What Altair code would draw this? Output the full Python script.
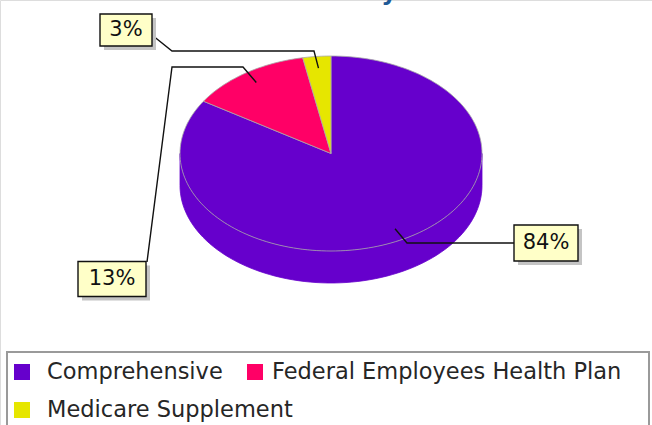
import altair as alt
import numpy as np
import pandas as pd

# ---------------- data ----------------
categories = ["Comprehensive", "Federal Employees Health Plan", "Medicare Supplement"]
shares = [84, 13, 3]
pct_labels = ["84%", "13%", "3%"]
colors = ["#6600CC", "#FF0066", "#E6E600"]

# ---------------- layout (pixels) ----------------
W, H = 652, 425
CX, CY, RX, RY, DEPTH = 331, 153.5, 151, 97.5, 32
ANCHOR_R = 0.88
label_layout = {
    "84%": dict(cx=546, cy=243, w=64, h=36, path=[(407, 243), (514, 243)]),
    "13%": dict(cx=112, cy=279, w=68, h=35, path=[(243, 67), (172, 67), (147, 262)]),
    "3%": dict(cx=126, cy=30, w=52, h=32, path=[(314, 51), (172, 51), (152, 35)]),
}
legend_box = dict(x=7, x2=649, y=352, y2=445)
legend_slots = [dict(sx=22, tx=47, y=372), dict(sx=255, tx=272, y=372), dict(sx=22, tx=47, y=410)]

# ---------------- geometry from data ----------------
total = float(sum(shares))
tops, sides, leaders, boxes = [], [], [], []
start = 0.0
for cat, v, lab in zip(categories, shares, pct_labels):
    a0 = 2 * np.pi * start / total
    a1 = 2 * np.pi * (start + v) / total
    start += v
    n = max(int(v * 2), 6)
    angs = np.linspace(a0, a1, n + 1)
    pts = [(CX, CY)] + [(CX + RX * np.sin(a), CY - RY * np.cos(a)) for a in angs] + [(CX, CY)]
    for i, (x, y) in enumerate(pts):
        tops.append(dict(cat=cat, idx=i, x=x, y=y))
    lo, hi = max(a0, np.pi / 2), min(a1, 3 * np.pi / 2)
    if hi > lo:
        sa = np.linspace(lo, hi, 80)
        up = [(CX + RX * np.sin(a), CY - RY * np.cos(a)) for a in sa]
        down = [(x, y + DEPTH) for (x, y) in up[::-1]]
        ring = up + down + [up[0]]
        for i, (x, y) in enumerate(ring):
            sides.append(dict(cat=cat, idx=i, x=x, y=y))
    mid = (a0 + a1) / 2
    ax = CX + ANCHOR_R * RX * np.sin(mid)
    ay = CY - ANCHOR_R * RY * np.cos(mid)
    L = label_layout[lab]
    for i, (x, y) in enumerate([(ax, ay)] + L["path"]):
        leaders.append(dict(lab=lab, idx=i, x=x, y=y))
    boxes.append(dict(lab=lab, x=L["cx"] - L["w"] / 2, x2=L["cx"] + L["w"] / 2,
                      y=L["cy"] - L["h"] / 2, y2=L["cy"] + L["h"] / 2,
                      cx=L["cx"], cy=L["cy"]))

tops_df = pd.DataFrame(tops)
sides_df = pd.DataFrame(sides)
lead_df = pd.DataFrame(leaders)
box_df = pd.DataFrame(boxes)
shadow_df = box_df.assign(x=box_df.x + 4, x2=box_df.x2 + 4, y=box_df.y + 4, y2=box_df.y2 + 4)
leg_df = pd.DataFrame([dict(cat=c, **s) for c, s in zip(categories, legend_slots)])

xs = alt.Scale(domain=[0, W], range=[0, W], nice=False, zero=False)
ys = alt.Scale(domain=[0, H], range=[0, H], nice=False, zero=False)
X = lambda f: alt.X(f, type="quantitative", scale=xs, axis=None)
Y = lambda f: alt.Y(f, type="quantitative", scale=ys, axis=None)

cscale = alt.Scale(domain=categories, range=colors)
color = alt.Color("cat:N", scale=cscale, legend=None)

side_layer = alt.Chart(sides_df).mark_line(filled=True, strokeWidth=0.8).encode(
    x=X("x"), y=Y("y"), color=color, stroke=alt.Stroke("cat:N", scale=cscale, legend=None),
    order="idx:Q",
)
top_layer = alt.Chart(tops_df).mark_line(filled=True, stroke="#A8A8A8", strokeWidth=0.8).encode(
    x=X("x"), y=Y("y"), color=color, order="idx:Q",
)
lead_layer = alt.Chart(lead_df).mark_line(color="#111111", strokeWidth=1.4).encode(
    x=X("x"), y=Y("y"), detail="lab:N", order="idx:Q",
)
shadow_layer = alt.Chart(shadow_df).mark_rect(color="#C4C4C4").encode(
    x=X("x"), x2="x2", y=Y("y"), y2="y2",
)
box_layer = alt.Chart(box_df).mark_rect(fill="#FFFFC8", stroke="#111111", strokeWidth=1.4).encode(
    x=X("x"), x2="x2", y=Y("y"), y2="y2",
)
text_layer = alt.Chart(box_df).mark_text(font="DejaVu Sans", fontSize=21, color="#111111",
                                          align="center", baseline="middle").encode(
    x=X("cx"), y=Y("cy"), text="lab:N",
)
legend_frame = alt.Chart(pd.DataFrame([legend_box])).mark_rect(
    fill="white", fillOpacity=0, stroke="#9A9A9A", strokeWidth=2
).encode(x=X("x"), x2="x2", y=Y("y"), y2="y2")
legend_sym = alt.Chart(leg_df).mark_square(size=256, opacity=1, strokeWidth=0).encode(
    x=X("sx"), y=Y("y"), color=alt.Color("cat:N", scale=cscale, legend=None),
)
legend_txt = alt.Chart(leg_df).mark_text(font="DejaVu Sans", fontSize=22.5, color="#262626",
                                         align="left", baseline="middle").encode(
    x=X("tx"), y=Y("y"), text="cat:N",
)
title_frag = alt.Chart(pd.DataFrame({"t": ["y"], "x": [389], "y": [0]})).mark_text(
    font="DejaVu Sans", fontWeight="bold", fontSize=24, color="#1F5A96",
    align="center", baseline="alphabetic"
).encode(x=X("x"), y=Y("y"), text="t:N")

chart = alt.layer(
    legend_frame, side_layer, top_layer, lead_layer, shadow_layer, box_layer, text_layer,
    legend_sym, legend_txt, title_frag
).properties(
    width=W, height=H, autosize=alt.AutoSizeParams(type="none"), padding=0,
).configure_view(stroke=None).configure(background="white")

chart.save("out.html", embed_options={"renderer": "svg", "actions": False})
